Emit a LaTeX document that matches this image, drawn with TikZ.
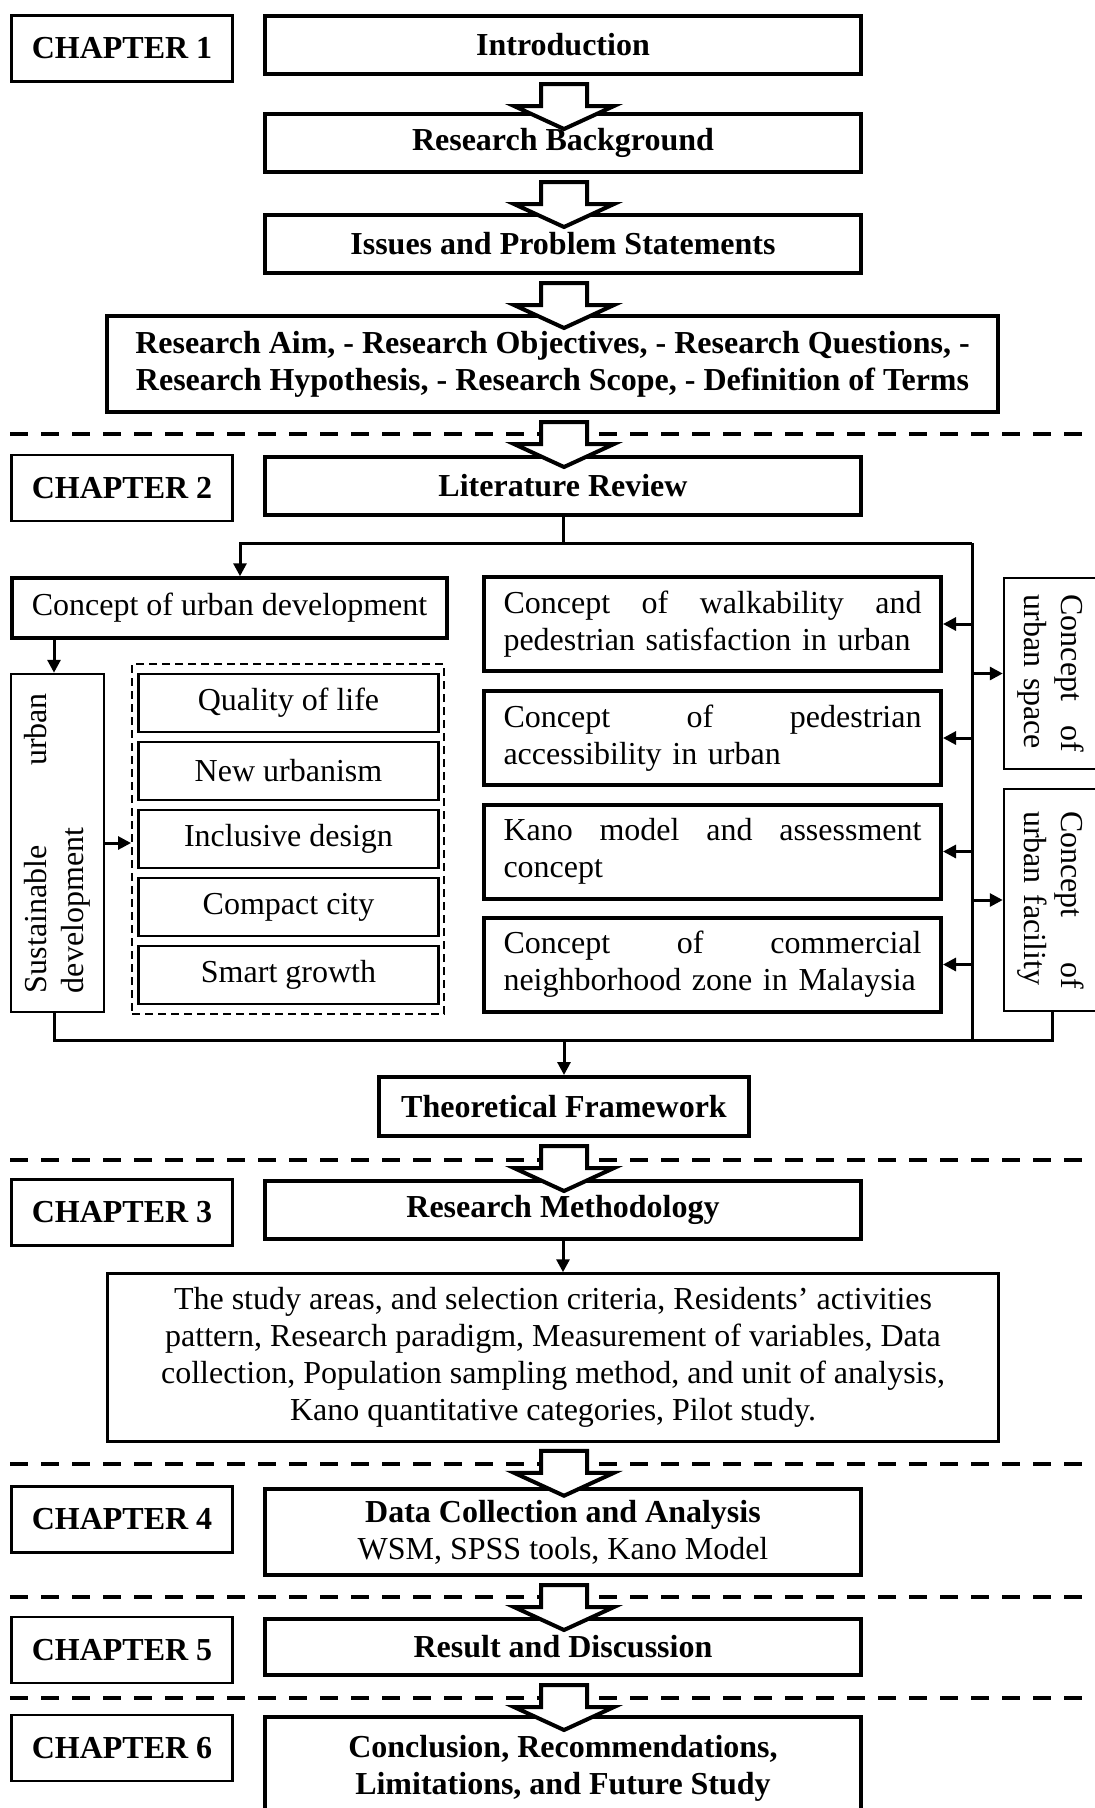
\documentclass[tikz,border=0pt]{standalone}
\usepackage{fontspec}
\setmainfont{Liberation Serif}
\usetikzlibrary{arrows.meta,calc}
\newcommand{\bigsize}{\fontsize{32pt}{36.8pt}\selectfont}
\begin{document}
\begin{tikzpicture}[x=1pt,y=-1pt,font=\bigsize,
  chap/.style={draw, line width=2.5pt, minimum width=221pt, minimum height=66pt, font=\bigsize\bfseries},
  mainbox/.style={draw, line width=4pt, minimum width=596pt, minimum height=58pt, font=\bigsize\bfseries, align=center},
  conc/.style={draw, line width=4pt, minimum width=457pt, minimum height=94pt, text width=418pt, align=left},
  sub/.style={draw, line width=2.5pt, minimum width=300pt, minimum height=58pt},
  side/.style={draw, line width=2.5pt, minimum height=93pt, align=left},
  line/.style={line width=3pt},
  link/.style={line width=3pt, -{Triangle[length=13pt,width=13pt]}},
  sepline/.style={line width=4pt, dash pattern=on 18pt off 13pt},
  hollow/.style={draw, fill=white, line width=4pt, line join=miter}]
  \path[use as bounding box, clip] (0,0) rectangle (1095,1808);
  \coordinate (axis) at (564,0);
  % Chapter 1
  \node[chap] (ch1) at (122,48.5) {CHAPTER 1};
  \node[mainbox] (intro) at (563,45) {Introduction};
  \node[mainbox] (bg) at (563,143) {Research Background};
  \node[mainbox] (issues) at (563,244) {Issues and Problem Statements};
  \node[mainbox, minimum width=891pt, minimum height=96pt] (aim) at (552.5,364)
    {Research Aim, - Research Objectives, - Research Questions, -\\Research Hypothesis, - Research Scope, - Definition of Terms};
  % Chapter 2
  \node[chap] (ch2) at (122,488) {CHAPTER 2};
  \node[mainbox] (lit) at (563,486) {Literature Review};
  \node[draw, line width=3.5pt, minimum width=435pt, minimum height=60pt] (cud) at (229.5,608) {Concept of urban development};
  \node[side, rotate=90, minimum width=338pt, text width=300pt] (sd) at (57.5,843) {Sustainable\hfill urban\\development};
  \node[draw, dash pattern=on 8pt off 5pt, line width=2pt, minimum width=312pt, minimum height=350pt] (grp) at (288,839) {};
  \foreach \t [count=\i] in {Quality of life, New urbanism, Inclusive design, Compact city, Smart growth}
    \node[sub] (q\i) at (288.5,{703+68*(\i-1)}) {\t};
  \node[conc] (walk) at (712.5,624) {Concept\hfill of\hfill walkability\hfill and\\pedestrian satisfaction in urban};
  \node[conc] (ped) at (712.5,738) {Concept\hfill of\hfill pedestrian\\accessibility in urban};
  \node[conc] (kano) at (712.5,851.5) {Kano\hfill model\hfill and\hfill assessment\\concept};
  \node[conc] (comm) at (712.5,964.5) {Concept\hfill of\hfill commercial\\neighborhood zone in Malaysia};
  \node[side, rotate=-90, minimum width=191pt, text width=158pt] (space) at (1050.5,673.5) {Concept\hfill of\\urban space};
  \node[side, rotate=-90, minimum width=222pt, text width=178pt] (facility) at (1050.5,900) {Concept\hfill of\\urban facility};
  \node[mainbox, minimum width=370pt, minimum height=59pt] (theo) at (564,1106.5) {Theoretical Framework};
  % links of chapter 2
  \coordinate (jr) at (972,543);
  \coordinate (jl) at (240,543);
  \coordinate (bl) at (54,1040);
  \coordinate (br) at (1052,1040);
  \draw[line] (lit.south) -- (lit.south |- jr);
  \draw[link] (jr) -- (jl) -- (jl |- cud.north);
  \draw[line] (jr) -- (jr |- bl);
  \draw[link] (bl |- cud.south) -- (bl |- sd.east);
  \draw[link] (sd.south) -- (sd.south -| grp.west);
  \foreach \n in {walk,ped,kano,comm}
    \draw[link] (jr |- \n.east) -- (\n.east);
  \foreach \n in {space,facility}
    \draw[link] (jr |- \n.south) -- (\n.south);
  \draw[line] (bl |- sd.west) -- (bl) -- (br) -- (br |- facility.east);
  \draw[link] (theo.north |- bl) -- (theo.north);
  % Chapter 3
  \node[chap] (ch3) at (122,1212.5) {CHAPTER 3};
  \node[mainbox] (meth) at (563,1210) {Research Methodology};
  \node[draw, line width=2.5pt, minimum width=891pt, minimum height=168pt, align=center] (txt) at (553,1357.5)
    {The study areas, and selection criteria, Residents’ activities\\pattern, Research paradigm, Measurement of variables, Data\\collection, Population sampling method, and unit of analysis,\\Kano quantitative categories, Pilot study.};
  \draw[link] (meth.south) -- (meth.south |- txt.north);
  % Chapters 4-6
  \node[chap] (ch4) at (122,1519.5) {CHAPTER 4};
  \node[mainbox, minimum height=86pt, font=\bigsize] (data) at (563,1532) {\textbf{Data Collection and Analysis}\\WSM, SPSS tools, Kano Model};
  \node[chap] (ch5) at (122,1650) {CHAPTER 5};
  \node[mainbox, minimum height=56pt] (result) at (563,1647) {Result and Discussion};
  \node[chap] (ch6) at (122,1748) {CHAPTER 6};
  \node[mainbox, minimum height=103pt] (concl) at (563,1768.5) {Conclusion, Recommendations,\\Limitations, and Future Study};
  % chapter separators and block arrows
  \foreach \y in {434,1160,1464,1597,1698}
    \draw[sepline] (10,\y) -- (1095,\y);
  \foreach \n in {intro,bg,issues,aim,theo,txt,data,result}
    \draw[hollow] ($(axis |- \n.south)+(-23,8)$) -- ++(46,0) -- ++(0,22) -- ++(27,0)
      -- ++(-50,23) -- ++(-50,-23) -- ++(27,0) -- cycle;
\end{tikzpicture}
\end{document}
